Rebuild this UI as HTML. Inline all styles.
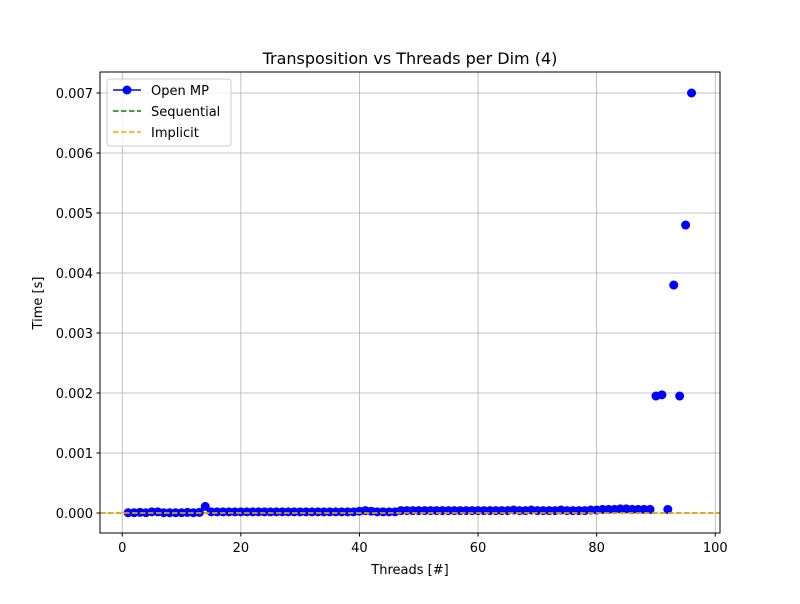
<!DOCTYPE html>
<html><head><meta charset="utf-8"><style>
body{margin:0;background:#fff;font-family:"DejaVu Sans","Liberation Sans",sans-serif;}
svg text{font-family:"DejaVu Sans","Liberation Sans",sans-serif;}
</style></head><body>
<svg id="chart" width="800" height="600" xmlns="http://www.w3.org/2000/svg">
<rect width="800" height="600" fill="#fff"/>
<g id="grid"></g>
<g id="marks"></g>
<rect x="100" y="72" width="620" height="461" fill="none" stroke="#000" stroke-width="1"/>
<g id="axes"></g>
<text x="410" y="64" font-size="16" text-anchor="middle">Transposition vs Threads per Dim (4)</text>
<text x="410" y="574" font-size="13" text-anchor="middle">Threads [#]</text>
<text x="42" y="303" font-size="13" text-anchor="middle" transform="rotate(-90 42 303)">Time [s]</text>
<g>
<rect x="107" y="79" width="124" height="67" fill="#fff" fill-opacity="0.8" stroke="#ccc" rx="3"/>
<g><line x1="113" y1="90" x2="141" y2="90" stroke="blue" stroke-width="1.5"/><circle cx="127" cy="90" r="4.5" fill="blue"/><text x="151" y="95" font-size="13">Open MP</text></g>
<g><line x1="113" y1="111" x2="141" y2="111" stroke="green" stroke-width="1.5" stroke-dasharray="5.5,2.5"/><text x="151" y="116" font-size="13">Sequential</text></g>
<g><line x1="113" y1="132" x2="141" y2="132" stroke="orange" stroke-width="1.5" stroke-dasharray="5.5,2.5"/><text x="151" y="137" font-size="13">Implicit</text></g>
</g>
</svg>
<script>
const xTicks=[0,20,40,60,80,100];
const yTicks=[0,0.001,0.002,0.003,0.004,0.005,0.006,0.007];
const yTickLabels=["0.000","0.001","0.002","0.003","0.004","0.005","0.006","0.007"];
const threads=[1,2,3,4,5,6,7,8,9,10,11,12,13,14,15,16,17,18,19,20,21,22,23,24,25,26,27,28,29,30,31,32,33,34,35,36,37,38,39,40,41,42,43,44,45,46,47,48,49,50,51,52,53,54,55,56,57,58,59,60,61,62,63,64,65,66,67,68,69,70,71,72,73,74,75,76,77,78,79,80,81,82,83,84,85,86,87,88,89,90,91,92,93,94,95,96];
const openmp=[0.000005,0.000005,0.00001,0.000005,0.00002,0.00002,0.000005,0.000005,0.000005,0.000005,0.00001,0.000005,0.00001,0.00011,0.00002,0.00002,0.00002,0.00002,0.00002,0.00002,0.00002,0.00002,0.00002,0.00002,0.00002,0.00002,0.00002,0.00002,0.00002,0.00002,0.00002,0.00002,0.00002,0.00002,0.00002,0.00002,0.00002,0.00002,0.00002,0.00003,0.00004,0.00003,0.00002,0.00002,0.00002,0.00002,0.00004,0.00004,0.00004,0.00004,0.00004,0.00004,0.00004,0.00004,0.00004,0.00004,0.00004,0.00004,0.00004,0.00004,0.00004,0.00004,0.00004,0.00004,0.00004,0.00005,0.00004,0.00004,0.00005,0.00004,0.00004,0.00004,0.00004,0.00005,0.00004,0.00004,0.00004,0.00004,0.00005,0.00005,0.00006,0.00006,0.00006,0.00007,0.00007,0.00006,0.00006,0.00006,0.00006,0.00195,0.00197,0.00006,0.0038,0.00195,0.0048,0.007];
const sequential=0;
const implicit=0;
const X0=-3.75,X1=100.8,Y0=-0.000333,Y1=0.00735;
const sx=v=>100+(v-X0)/(X1-X0)*620;
const sy=v=>533-(v-Y0)/(Y1-Y0)*461;
const NS="http://www.w3.org/2000/svg";
function mk(p,t,a){const e=document.createElementNS(NS,t);for(const k in a)e.setAttribute(k,a[k]);p.appendChild(e);return e;}
const grid=document.getElementById('grid'),axes=document.getElementById('axes'),marks=document.getElementById('marks');
xTicks.forEach(t=>{const x=sx(t);
 const g=mk(grid,'line',{x1:x,x2:x,y1:72,y2:533,stroke:'#b0b0b0','stroke-width':0.8});
 
 mk(axes,'line',{x1:x,x2:x,y1:533,y2:536.5,stroke:'#000'});
 const l=mk(axes,'text',{x:x,y:552,'font-size':13,'text-anchor':'middle'});l.textContent=t;
 });
yTicks.forEach((t,i)=>{const y=sy(t);
 const g=mk(grid,'line',{x1:100,x2:720,y1:y,y2:y,stroke:'#b0b0b0','stroke-width':0.8});
 
 mk(axes,'line',{x1:96.5,x2:100,y1:y,y2:y,stroke:'#000'});
 const l=mk(axes,'text',{x:93,y:y+5,'font-size':13,'text-anchor':'end'});l.textContent=yTickLabels[i];
 });
threads.forEach((t,i)=>{const c=mk(marks,'circle',{cx:sx(t),cy:sy(openmp[i]),r:4.5,fill:'blue'});
 });
const s=mk(marks,'line',{x1:100,x2:720,y1:sy(sequential),y2:sy(sequential),stroke:'green','stroke-width':1.5,'stroke-dasharray':'5.5,2.5'});

const im=mk(marks,'line',{x1:100,x2:720,y1:sy(implicit),y2:sy(implicit),stroke:'orange','stroke-width':1.5,'stroke-dasharray':'5.5,2.5'});

</script>
</body></html>
